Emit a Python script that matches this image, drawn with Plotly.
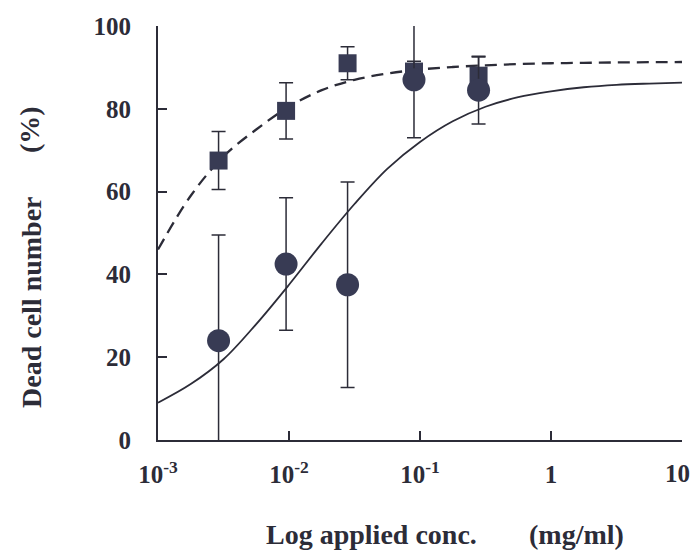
import plotly.graph_objects as go

# Measured points (concentration in mg/ml, dead cells in %)
conc = [0.0029, 0.0095, 0.028, 0.09, 0.28]

square_y = [67.5, 79.5, 91.0, 89.0, 88.0]
square_err = [7.0, 6.8, 4.0, 2.5, 4.5]

circle_y = [24.0, 42.5, 37.5, 87.0, 84.5]
circle_err = [25.5, 16.0, 24.8, 14.0, 8.2]

# Fitted dose-response curves
curve_conc = [0.001, 0.001778, 0.003162, 0.005623, 0.01, 0.01778, 0.03162,
              0.05623, 0.1, 0.1778, 0.3162, 0.5623, 1.0, 1.778, 3.162,
              5.623, 10.0]
solid_fit = [9.0, 13.5, 19.5, 28.0, 37.5, 47.5, 57.0, 65.5, 72.0, 77.0,
             80.5, 82.8, 84.2, 85.2, 85.8, 86.1, 86.3]
dashed_fit = [46.0, 59.0, 68.5, 75.0, 80.5, 84.5, 87.0, 88.5, 89.5, 90.1,
              90.5, 90.8, 91.0, 91.1, 91.2, 91.25, 91.3]

x_tickvals = [0.001, 0.01, 0.1, 1, 10]
x_ticktext = ["10<sup>-3</sup>", "10<sup>-2</sup>", "10<sup>-1</sup>", "1", "10"]
y_tickvals = [0, 20, 40, 60, 80, 100]

INK = "#2c2c38"
MARK = "#383b54"
FONT = "Liberation Serif"

fig = go.Figure()

fig.add_trace(go.Scatter(
    x=curve_conc, y=dashed_fit, mode="lines", line_shape="spline",
    line=dict(color=INK, width=2.3, dash="12px,7px"),
    hoverinfo="skip", cliponaxis=False,
))
fig.add_trace(go.Scatter(
    x=curve_conc, y=solid_fit, mode="lines", line_shape="spline",
    line=dict(color=INK, width=1.8),
    hoverinfo="skip", cliponaxis=False,
))
fig.add_trace(go.Scatter(
    x=conc, y=square_y, mode="markers",
    marker=dict(symbol="square", size=18, color=MARK),
    error_y=dict(type="data", array=square_err, visible=True,
                 color=INK, thickness=1.5, width=7),
    cliponaxis=False,
))
fig.add_trace(go.Scatter(
    x=conc, y=circle_y, mode="markers",
    marker=dict(symbol="circle", size=23, color=MARK),
    error_y=dict(type="data", array=circle_err, visible=True,
                 color=INK, thickness=1.5, width=7),
    cliponaxis=False,
))

L, R, T, B = 158, 12, 26, 116
W, H = 694, 556
pw, ph = W - L - R, H - T - B


def px(x):
    return (x - L) / pw


def py(y):
    return (H - B - y) / ph


title_font = dict(family=FONT, size=28, color=INK, weight="bold")
tick_font = dict(family=FONT, size=25, color=INK, weight="bold")

# The last x label sits at the page edge, so it is placed as an annotation
# nudged inward instead of as a centred tick label.
edge_label = x_ticktext[-1]
axis_ticktext = x_ticktext[:-1] + [""]

fig.update_layout(
    width=W, height=H,
    margin=dict(l=L, r=R, t=T, b=B, autoexpand=False),
    paper_bgcolor="white", plot_bgcolor="white",
    showlegend=False,
    xaxis=dict(
        type="log", range=[-3, 1.0002], automargin=False,
        tickvals=x_tickvals, ticktext=axis_ticktext,
        ticks="inside", ticklen=9, tickwidth=1.8, tickcolor=INK,
        showline=True, linecolor=INK, linewidth=2, mirror=False,
        showgrid=False, zeroline=False,
        tickfont=tick_font,
        ticklabelstandoff=11, ticklabeloverflow="allow",
    ),
    yaxis=dict(
        range=[0, 100], automargin=False,
        tickvals=y_tickvals,
        ticks="inside", ticklen=9, tickwidth=1.8, tickcolor=INK,
        showline=True, linecolor=INK, linewidth=2, mirror=False,
        showgrid=False, zeroline=False,
        tickfont=tick_font,
        ticklabelstandoff=20,
    ),
    annotations=[
        dict(text=edge_label, xref="paper", yref="paper",
             x=px(692), y=py(474), showarrow=False, font=tick_font,
             xanchor="right", yanchor="middle"),
        dict(text="Log applied conc.", xref="paper", yref="paper",
             x=px(371), y=py(534), showarrow=False, font=title_font,
             xanchor="center", yanchor="middle"),
        dict(text="(mg/ml)", xref="paper", yref="paper",
             x=px(576), y=py(534), showarrow=False, font=title_font,
             xanchor="center", yanchor="middle"),
        dict(text="Dead cell number", xref="paper", yref="paper",
             x=px(31), y=py(302), showarrow=False, font=title_font,
             textangle=-90, xanchor="center", yanchor="middle"),
        dict(text="(%)", xref="paper", yref="paper",
             x=px(29), y=py(130), showarrow=False, font=title_font,
             textangle=-90, xanchor="center", yanchor="middle"),
    ],
)

fig.write_html("out.html")
